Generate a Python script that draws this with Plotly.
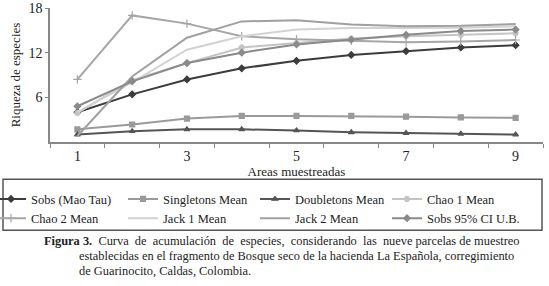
import plotly.graph_objects as go

areas = [1, 2, 3, 4, 5, 6, 7, 8, 9]
sobs = [4.0, 6.4, 8.4, 9.9, 10.9, 11.7, 12.2, 12.7, 13.0]
singletons = [1.7, 2.35, 3.15, 3.5, 3.5, 3.5, 3.4, 3.3, 3.25]
doubletons = [1.0, 1.45, 1.7, 1.7, 1.55, 1.3, 1.2, 1.1, 1.0]
chao1 = [3.9, 8.3, 10.6, 12.7, 13.3, 13.9, 14.2, 14.4, 14.6]
chao2 = [8.4, 17.0, 15.9, 14.2, 13.8, 13.6, 13.4, 13.5, 13.7]
jack1 = [4.0, 8.0, 12.4, 14.2, 15.1, 15.3, 15.3, 15.35, 15.55]
jack2 = [0.8, 8.8, 14.0, 16.2, 16.35, 15.8, 15.55, 15.6, 15.85]
sobs_ub = [4.8, 8.15, 10.6, 12.0, 13.1, 13.75, 14.4, 14.9, 15.1]

series = [
    ("Sobs (Mao Tau)", sobs, "#3c3c3c", "diamond", 5),
    ("Singletons Mean", singletons, "#9a9a9a", "square", 5),
    ("Doubletons Mean", doubletons, "#555555", "triangle-up", 5),
    ("Chao 1 Mean", chao1, "#c4c4c4", "circle", 5),
    ("Chao 2 Mean", chao2, "#a6a6a6", "cross-thin", 6),
    ("Jack 1 Mean", jack1, "#d2d2d2", None, 0),
    ("Jack 2 Mean", jack2, "#a0a0a0", None, 0),
    ("Sobs 95% CI U.B.", sobs_ub, "#8a8a8a", "diamond", 5),
]

fig = go.Figure()
for name, vals, color, sym, size in series:
    if sym:
        mode = "lines+markers"
        marker = dict(symbol=sym, size=size, color=color,
                      line=dict(color=color, width=1.2))
    else:
        mode = "lines"
        marker = None
    fig.add_trace(go.Scatter(x=areas, y=vals, name=name, mode=mode,
                             line=dict(color=color, width=2),
                             marker=marker))

serif = "Liberation Serif"
W, H = 549, 286
L, T, PW, PH = 50, 8, 493, 134.5
def px_x(px):
    return (px - L) / PW
def px_y(py):
    return (T + PH - py) / PH

fig.update_layout(
    width=W, height=H,
    margin=dict(l=L, r=W - L - PW, t=T, b=H - T - PH, autoexpand=False),
    paper_bgcolor="white", plot_bgcolor="white",
    font=dict(family=serif, color="#222222", size=13),
    showlegend=True,
    legend=dict(orientation="h", x=px_x(-9), y=px_y(185), xanchor="left", yanchor="top",
                entrywidth=87, entrywidthmode="pixels", itemwidth=30,
                bgcolor="rgba(0,0,0,0)", borderwidth=0,
                font=dict(family=serif, size=12.5, color="#222222"),
                tracegroupgap=0),
    xaxis=dict(range=[0.5, 9.5], tickvals=[1, 3, 5, 7, 9], ticks="",
               automargin=False,
               showline=True, linecolor="#888888", linewidth=1.5,
               showgrid=False, zeroline=False,
               tickfont=dict(size=14),
               minor=dict(tickvals=[0.5, 1.5, 2.5, 3.5, 4.5, 5.5, 6.5, 7.5, 8.5, 9.5],
                          ticks="outside", ticklen=4, tickcolor="#888888"),
               title=dict(text="Areas muestreadas", font=dict(size=13), standoff=4)),
    yaxis=dict(range=[0, 18], tickvals=[6, 12, 18], ticks="outside", ticklen=3,
               automargin=False,
               tickcolor="#888888",
               showline=True, linecolor="#888888", linewidth=1.5,
               showgrid=False, zeroline=False,
               tickfont=dict(size=14),
               title=dict(text="Riqueza de especies", font=dict(size=13), standoff=5)),
)

# legend frame
fig.add_shape(type="rect", xref="paper", yref="paper",
              x0=px_x(3), x1=px_x(542), y0=px_y(231), y1=px_y(180),
              line=dict(color="#555555", width=1.5), fillcolor="rgba(0,0,0,0)")

nb = "\u00a0"
words = "Curva de acumulación de especies, considerando las nueve parcelas de muestreo".split(" ")
line1 = ""
for i, w in enumerate(words):
    if i > 0:
        line1 += (" " + nb) if i < len(words) - 3 else " "
    line1 += w
cap = [
    ("<b>Figura 3.</b> " + nb + line1, 42, 242),
    ("establecidas en el fragmento de Bosque seco de la hacienda La Española, corregimiento", 77, 257),
    ("de Guarinocito, Caldas, Colombia.", 77, 272),
]
for text, px, py in cap:
    fig.add_annotation(text=text, xref="paper", yref="paper",
                       x=px_x(px), y=px_y(py),
                       xanchor="left", yanchor="middle", showarrow=False,
                       font=dict(family=serif, size=12.4, color="#222222"))

fig.write_html("out.html", config={"displayModeBar": False},
               post_script="document.body.style.margin='0';document.body.style.padding='0';")
